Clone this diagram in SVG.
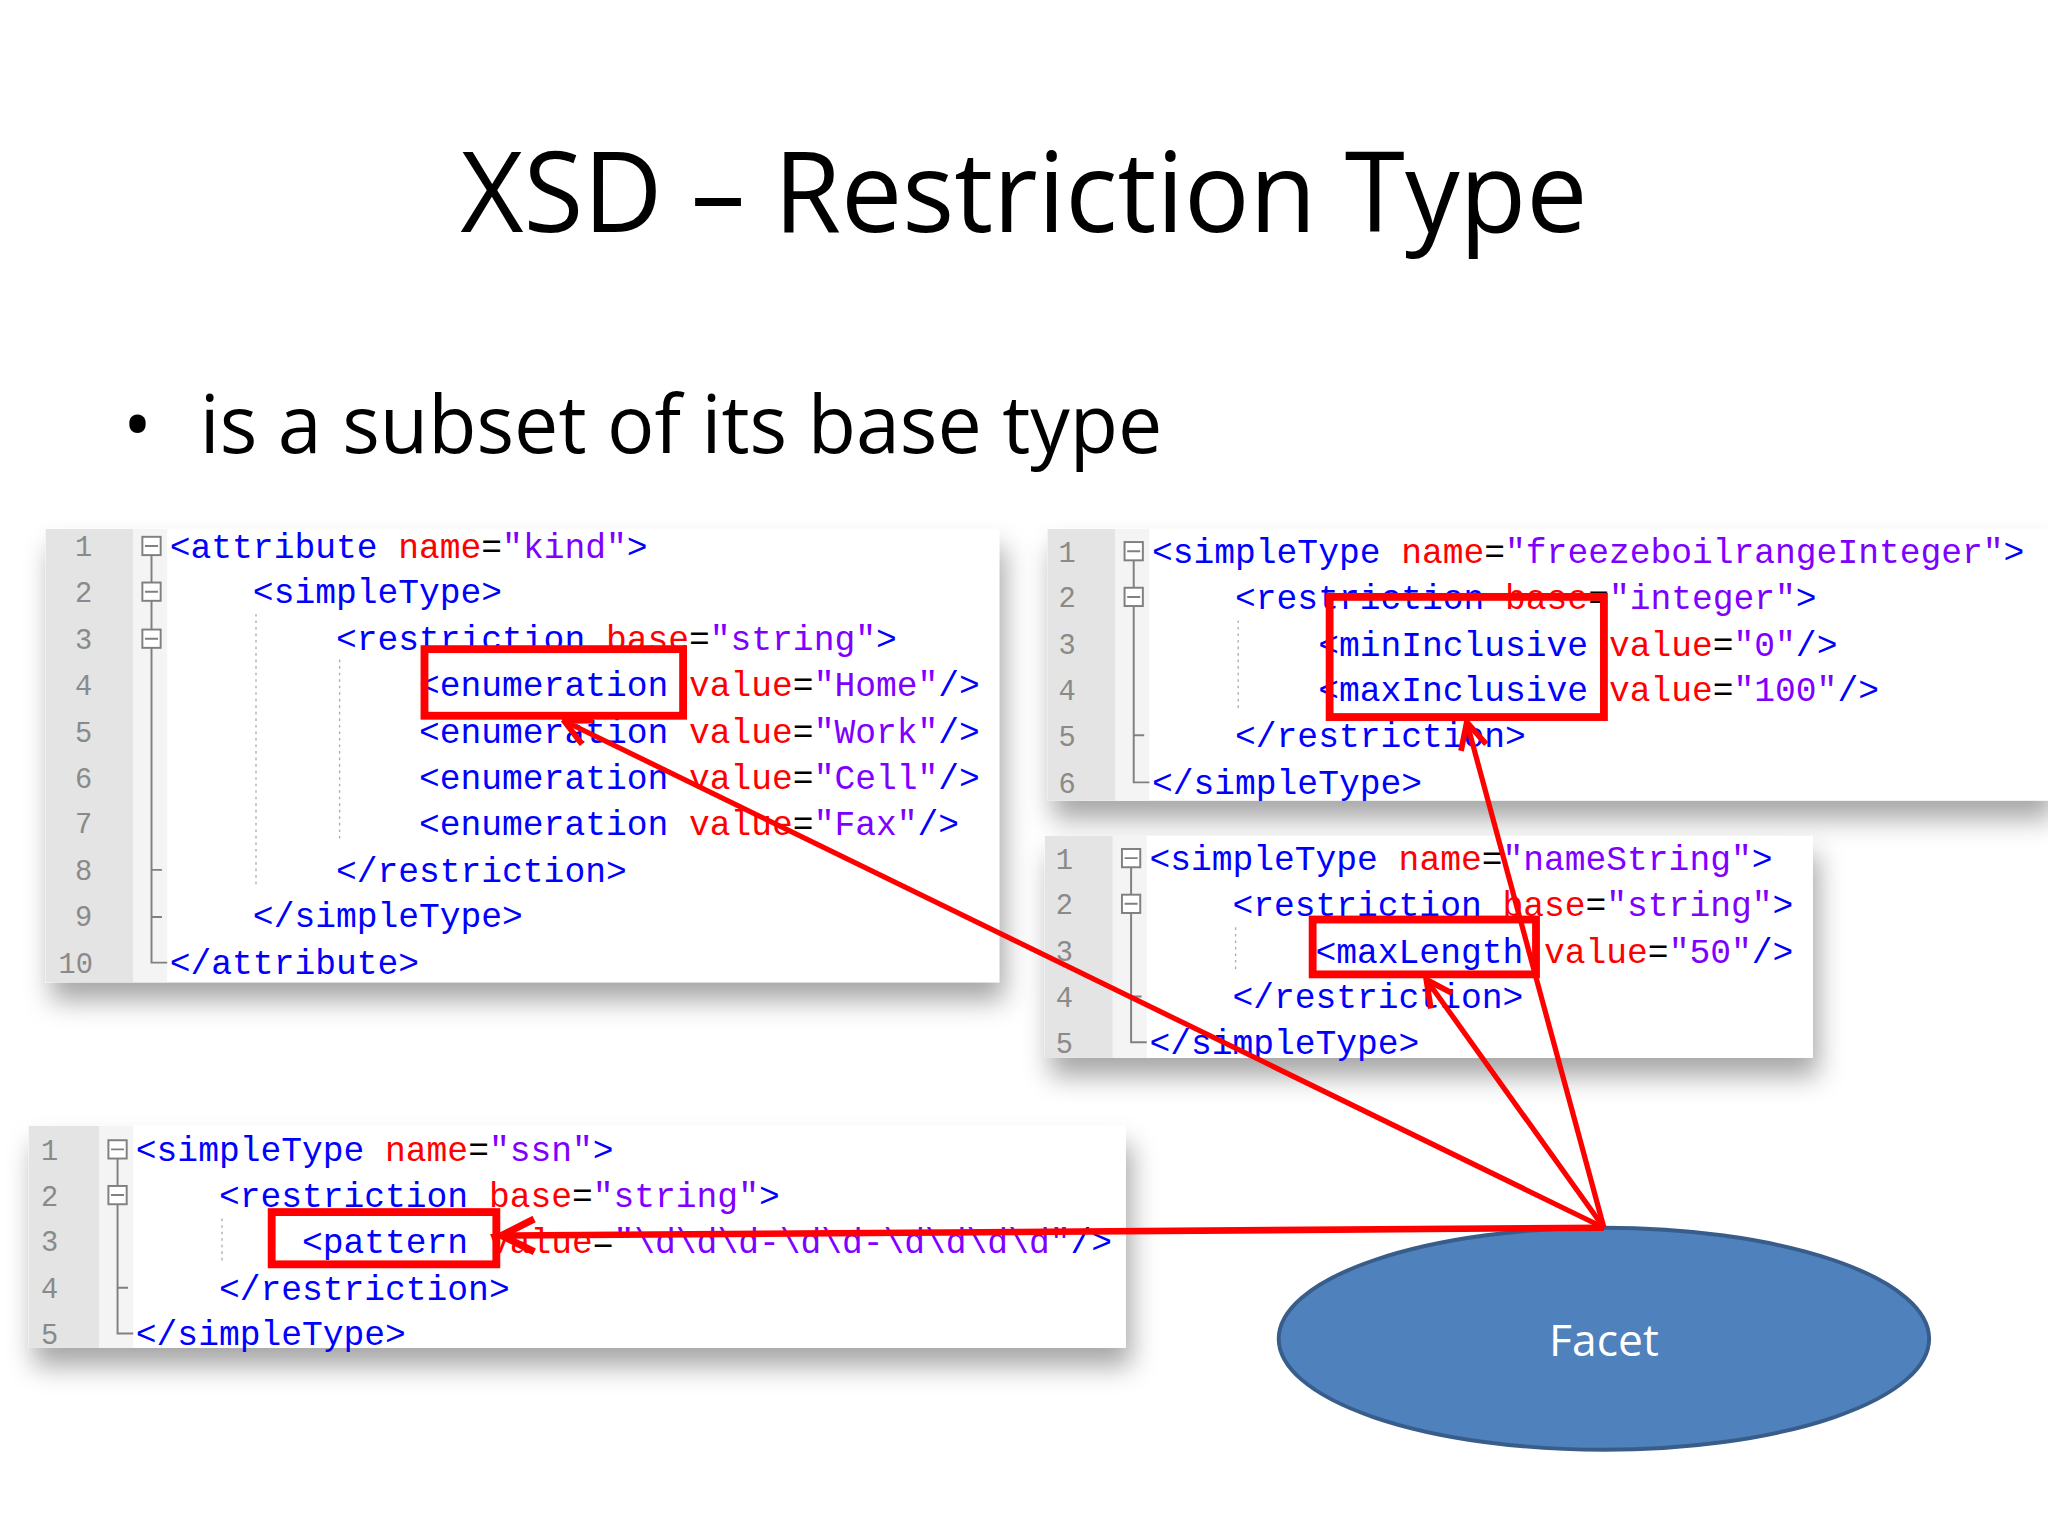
<svg xmlns="http://www.w3.org/2000/svg" width="2048" height="1536" viewBox="0 0 2048 1536">
<style>
.code{font-family:"Liberation Mono","Courier New",monospace;font-size:26.5px}
.t{fill:#0000FF}.a{fill:#FF0000}.e{fill:#000}.v{fill:#8000FF}
.ln{font-family:"Liberation Mono",monospace;font-size:22px;fill:#8A8A8A;text-anchor:middle}
.fold{fill:#fff;stroke:#808080;stroke-width:1.5}
.fl{stroke:#808080;stroke-width:1.5;fill:none}
.guide{stroke:#aaa;stroke-width:1;stroke-dasharray:2 3}
.box{fill:none;stroke:#FF0000;stroke-width:6}
.arr{stroke:#FF0000;stroke-width:4;fill:none;marker-end:url(#ah)}
</style>
<defs>
<filter id="sh" x="-10%" y="-10%" width="125%" height="140%">
<feDropShadow dx="4" dy="14" stdDeviation="10" flood-color="#000" flood-opacity="0.35"/>
</filter>
<marker id="ah" viewBox="0 0 12 12" refX="11" refY="6" markerWidth="6" markerHeight="6" orient="auto" markerUnits="strokeWidth">
<path d="M1,1 L11,6 L1,11" fill="none" stroke="#FF0000" stroke-width="2.2"/>
</marker>
</defs>
<rect width="2048" height="1536" fill="#fff"/>
<g transform="scale(1.30612)">
<g id="title"><text x="784" y="178" font-family="Open Sans,Liberation Sans,sans-serif" font-size="86" text-anchor="middle" textLength="863" lengthAdjust="spacingAndGlyphs" fill="#000">XSD – Restriction Type</text></g>
<g id="bullet"><text x="94" y="347" font-family="Open Sans,Liberation Sans,sans-serif" font-size="60" fill="#000">•</text>
<text x="153" y="347" font-family="Open Sans,Liberation Sans,sans-serif" font-size="62" textLength="737" lengthAdjust="spacingAndGlyphs" fill="#000">is a subset of its base type</text></g>

<g id="panel1">
<rect x="35" y="405" width="730" height="347" fill="#fff" filter="url(#sh)"/>
<rect x="35" y="405" width="67" height="347" fill="#E4E4E4"/>
<rect x="102" y="405" width="26" height="347" fill="#F4F4F4"/>
<g class="ln"><text x="64" y="426">1</text><text x="64" y="461">2</text><text x="64" y="497">3</text><text x="64" y="532">4</text><text x="64" y="568">5</text><text x="64" y="603">6</text><text x="64" y="638">7</text><text x="64" y="674">8</text><text x="64" y="709">9</text><text x="58" y="745">10</text></g>
<path class="fl" d="M116,425 V737 H128 M116,666 H124 M116,702 H124"/>
<rect class="fold" x="109" y="411" width="14" height="14"/><rect class="fold" x="109" y="446" width="14" height="14"/><rect class="fold" x="109" y="482" width="14" height="14"/>
<path class="fl" d="M111,418 H121 M111,453 H121 M111,489 H121"/>
<line class="guide" x1="196" y1="470" x2="196" y2="680"/><line class="guide" x1="260" y1="505" x2="260" y2="645"/>
<g class="code" xml:space="preserve">
<text x="130" y="427"><tspan class="t">&lt;attribute </tspan><tspan class="a">name</tspan><tspan class="e">=</tspan><tspan class="v">"kind"</tspan><tspan class="t">&gt;</tspan></text>
<text x="193.6" y="462"><tspan class="t">&lt;simpleType&gt;</tspan></text>
<text x="257.2" y="498"><tspan class="t">&lt;restriction </tspan><tspan class="a">base</tspan><tspan class="e">=</tspan><tspan class="v">"string"</tspan><tspan class="t">&gt;</tspan></text>
<text x="320.8" y="533"><tspan class="t">&lt;enumeration </tspan><tspan class="a">value</tspan><tspan class="e">=</tspan><tspan class="v">"Home"</tspan><tspan class="t">/&gt;</tspan></text>
<text x="320.8" y="569"><tspan class="t">&lt;enumeration </tspan><tspan class="a">value</tspan><tspan class="e">=</tspan><tspan class="v">"Work"</tspan><tspan class="t">/&gt;</tspan></text>
<text x="320.8" y="604"><tspan class="t">&lt;enumeration </tspan><tspan class="a">value</tspan><tspan class="e">=</tspan><tspan class="v">"Cell"</tspan><tspan class="t">/&gt;</tspan></text>
<text x="320.8" y="639"><tspan class="t">&lt;enumeration </tspan><tspan class="a">value</tspan><tspan class="e">=</tspan><tspan class="v">"Fax"</tspan><tspan class="t">/&gt;</tspan></text>
<text x="257.2" y="675"><tspan class="t">&lt;/restriction&gt;</tspan></text>
<text x="193.6" y="710"><tspan class="t">&lt;/simpleType&gt;</tspan></text>
<text x="130" y="746"><tspan class="t">&lt;/attribute&gt;</tspan></text>
</g>
<rect class="box" x="325" y="497" width="198" height="51"/>
</g>

<g id="panel2">
<rect x="802" y="405" width="766" height="208" fill="#fff" filter="url(#sh)"/>
<rect x="802" y="405" width="52" height="208" fill="#E4E4E4"/>
<rect x="854" y="405" width="26" height="208" fill="#F4F4F4"/>
<g class="ln"><text x="817" y="430">1</text><text x="817" y="465">2</text><text x="817" y="501">3</text><text x="817" y="536">4</text><text x="817" y="571">5</text><text x="817" y="607">6</text></g>
<path class="fl" d="M868,429 V599 H880 M868,563 H876"/>
<rect class="fold" x="861" y="415" width="14" height="14"/><rect class="fold" x="861" y="450" width="14" height="14"/>
<path class="fl" d="M863,422 H873 M863,457 H873"/>
<line class="guide" x1="948" y1="475" x2="948" y2="545"/>
<g class="code" xml:space="preserve">
<text x="882" y="431"><tspan class="t">&lt;simpleType </tspan><tspan class="a">name</tspan><tspan class="e">=</tspan><tspan class="v">"freezeboilrangeInteger"</tspan><tspan class="t">&gt;</tspan></text>
<text x="945.6" y="466"><tspan class="t">&lt;restriction </tspan><tspan class="a">base</tspan><tspan class="e">=</tspan><tspan class="v">"integer"</tspan><tspan class="t">&gt;</tspan></text>
<text x="1009.2" y="502"><tspan class="t">&lt;minInclusive </tspan><tspan class="a">value</tspan><tspan class="e">=</tspan><tspan class="v">"0"</tspan><tspan class="t">/&gt;</tspan></text>
<text x="1009.2" y="537"><tspan class="t">&lt;maxInclusive </tspan><tspan class="a">value</tspan><tspan class="e">=</tspan><tspan class="v">"100"</tspan><tspan class="t">/&gt;</tspan></text>
<text x="945.6" y="572"><tspan class="t">&lt;/restriction&gt;</tspan></text>
<text x="882" y="608"><tspan class="t">&lt;/simpleType&gt;</tspan></text>
</g>
<rect class="box" x="1018" y="457" width="210" height="92"/>
</g>

<g id="panel3">
<rect x="800" y="640" width="588" height="170" fill="#fff" filter="url(#sh)"/>
<rect x="800" y="640" width="52" height="170" fill="#E4E4E4"/>
<rect x="852" y="640" width="26" height="170" fill="#F4F4F4"/>
<g class="ln"><text x="815" y="665">1</text><text x="815" y="700">2</text><text x="815" y="736">3</text><text x="815" y="771">4</text><text x="815" y="806">5</text></g>
<path class="fl" d="M866,664 V798 H878 M866,763 H874"/>
<rect class="fold" x="859" y="650" width="14" height="14"/><rect class="fold" x="859" y="685" width="14" height="14"/>
<path class="fl" d="M861,657 H871 M861,692 H871"/>
<line class="guide" x1="946" y1="710" x2="946" y2="745"/>
<g class="code" xml:space="preserve">
<text x="880" y="666"><tspan class="t">&lt;simpleType </tspan><tspan class="a">name</tspan><tspan class="e">=</tspan><tspan class="v">"nameString"</tspan><tspan class="t">&gt;</tspan></text>
<text x="943.6" y="701"><tspan class="t">&lt;restriction </tspan><tspan class="a">base</tspan><tspan class="e">=</tspan><tspan class="v">"string"</tspan><tspan class="t">&gt;</tspan></text>
<text x="1007.2" y="737"><tspan class="t">&lt;maxLength </tspan><tspan class="a">value</tspan><tspan class="e">=</tspan><tspan class="v">"50"</tspan><tspan class="t">/&gt;</tspan></text>
<text x="943.6" y="772"><tspan class="t">&lt;/restriction&gt;</tspan></text>
<text x="880" y="807"><tspan class="t">&lt;/simpleType&gt;</tspan></text>
</g>
<rect class="box" x="1005" y="704" width="171" height="42"/>
</g>

<g id="panel4">
<rect x="22" y="862" width="840" height="170" fill="#fff" filter="url(#sh)"/>
<rect x="22" y="862" width="54" height="170" fill="#E4E4E4"/>
<rect x="76" y="862" width="26" height="170" fill="#F4F4F4"/>
<g class="ln"><text x="38" y="888">1</text><text x="38" y="923">2</text><text x="38" y="958">3</text><text x="38" y="994">4</text><text x="38" y="1029">5</text></g>
<path class="fl" d="M90,887 V1021 H102 M90,986 H98"/>
<rect class="fold" x="83" y="873" width="14" height="14"/><rect class="fold" x="83" y="908" width="14" height="14"/>
<path class="fl" d="M85,880 H95 M85,915 H95"/>
<line class="guide" x1="170" y1="933" x2="170" y2="968"/>
<g class="code" xml:space="preserve">
<text x="104" y="889"><tspan class="t">&lt;simpleType </tspan><tspan class="a">name</tspan><tspan class="e">=</tspan><tspan class="v">"ssn"</tspan><tspan class="t">&gt;</tspan></text>
<text x="167.6" y="924"><tspan class="t">&lt;restriction </tspan><tspan class="a">base</tspan><tspan class="e">=</tspan><tspan class="v">"string"</tspan><tspan class="t">&gt;</tspan></text>
<text x="231.2" y="959"><tspan class="t">&lt;pattern </tspan><tspan class="a">value</tspan><tspan class="e">=</tspan><tspan class="v">"\d\d\d-\d\d-\d\d\d\d"</tspan><tspan class="t">/&gt;</tspan></text>
<text x="167.6" y="995"><tspan class="t">&lt;/restriction&gt;</tspan></text>
<text x="104" y="1030"><tspan class="t">&lt;/simpleType&gt;</tspan></text>
</g>
<rect class="box" x="208" y="928" width="172" height="40"/>
</g>

<g id="facet">
<ellipse cx="1228" cy="1025" rx="249" ry="85" fill="#4F81BD" stroke="#385D8A" stroke-width="3"/>
<text x="1228" y="1038" font-family="Open Sans,Liberation Sans,sans-serif" font-size="34" fill="#fff" text-anchor="middle">Facet</text>
</g>

<g id="connectors">
<line class="arr" x1="1228" y1="940" x2="432" y2="552"/>
<line class="arr" x1="1228" y1="940" x2="1123" y2="553"/>
<line class="arr" x1="1228" y1="940" x2="1092" y2="750"/>
<line class="arr" x1="1228" y1="940" x2="384" y2="946" style="stroke-width:5"/>
</g>
</g>
</svg>
